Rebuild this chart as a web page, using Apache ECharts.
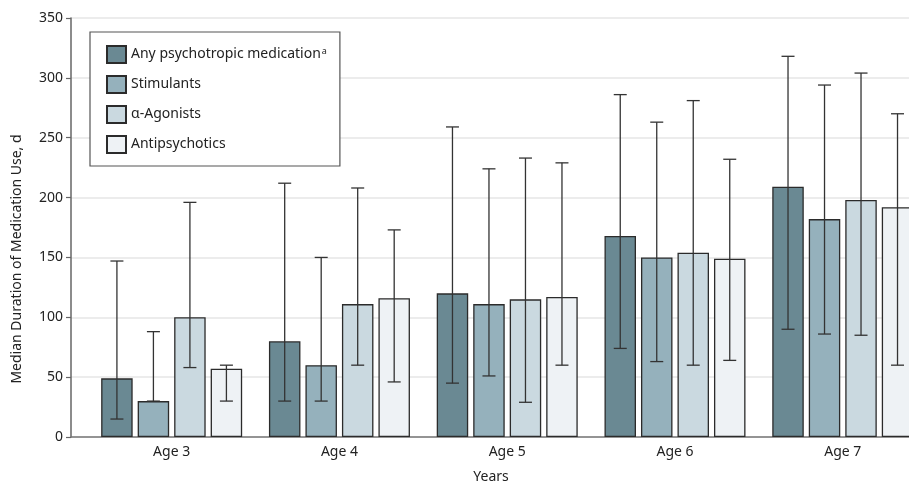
<!DOCTYPE html>
<html><head><meta charset="utf-8">
<script src="https://cdn.jsdelivr.net/npm/echarts@6/dist/echarts.min.js"></script>
<style>html,body{margin:0;padding:0;background:#fff}#c{width:909px;height:485px}</style>
</head><body><div id="c"></div>
<script>
const ages = [3, 4, 5, 6, 7];
const seriesNames = ['Any psychotropic medication', 'Stimulants', 'α-Agonists', 'Antipsychotics'];
const anyMed = [49, 80, 120, 168, 209];
const anyLow = [15, 30, 45, 74, 90];
const anyHigh = [147, 212, 259, 286, 318];
const stimulants = [30, 60, 111, 150, 182];
const stimLow = [30, 30, 51, 63, 86];
const stimHigh = [88, 150, 224, 263, 294];
const agonists = [100, 111, 115, 154, 198];
const agoLow = [58, 60, 29, 60, 85];
const agoHigh = [196, 208, 233, 281, 304];
const antipsychotics = [57, 116, 117, 149, 192];
const antiLow = [30, 46, 60, 64, 60];
const antiHigh = [60, 173, 229, 232, 270];
const yTicks = [0, 50, 100, 150, 200, 250, 300, 350];

const values = [anyMed, stimulants, agonists, antipsychotics];
const lows = [anyLow, stimLow, agoLow, antiLow];
const highs = [anyHigh, stimHigh, agoHigh, antiHigh];
const colors = ['#6a8993', '#95b1bc', '#cad9e0', '#eef2f5'];
const FONT = 'Noto Sans';
const barW = 31.5, gapPx = 5;
const offsets = [-1.5, -0.5, 0.5, 1.5].map(k => k * (barW + gapPx));

const series = [];
values.forEach((vals, i) => {
  series.push({
    name: seriesNames[i], type: 'bar', clip: false,
    data: ages.map((a, j) => [a, vals[j]]),
    barWidth: barW, barGap: (gapPx / barW * 100) + '%',
    itemStyle: { color: colors[i], borderColor: '#2b2b2b', borderWidth: 1.3 },
    emphasis: { disabled: true }, z: 2
  });
});
values.forEach((vals, i) => {
  series.push({
    name: 'err' + i, type: 'custom', z: 5, clip: false,
    data: ages.map((a, j) => [a, lows[i][j], highs[i][j]]),
    renderItem: (params, api) => {
      const lo = api.coord([api.value(0), api.value(1)]);
      const hi = api.coord([api.value(0), api.value(2)]);
      const x = lo[0] + offsets[i];
      const cap = 6.5;
      const st = { stroke: '#333', lineWidth: 1.3 };
      return { type: 'group', children: [
        { type: 'line', shape: { x1: x, y1: lo[1], x2: x, y2: hi[1] }, style: st },
        { type: 'line', shape: { x1: x - cap, y1: hi[1], x2: x + cap, y2: hi[1] }, style: st },
        { type: 'line', shape: { x1: x - cap, y1: lo[1], x2: x + cap, y2: lo[1] }, style: st }
      ]};
    }
  });
});

const chart = echarts.init(document.getElementById('c'), null, { renderer: 'canvas' });
chart.setOption({
  animation: false,
  textStyle: { fontFamily: FONT },
  grid: { left: 71, top: 18, right: 0, bottom: 48, containLabel: false },
  legend: {
    orient: 'vertical', left: 90, top: 32,
    data: seriesNames, icon: 'rect',
    itemWidth: 19, itemHeight: 17, itemGap: 11,
    padding: [13, 13, 12, 16],
    borderColor: '#555', borderWidth: 1.2, backgroundColor: '#fff',
    selectedMode: false,
    textStyle: { fontFamily: FONT, fontSize: 14, color: '#222',
      rich: { sup: { fontFamily: FONT, fontSize: 9, color: '#222', verticalAlign: 'top', padding: [0, 0, 6, 1] } } },
    formatter: n => n === seriesNames[0] ? n + '{sup|a}' : n
  },
  xAxis: {
    type: 'value', min: 2.4, max: 3 + (909 - 172) / 167.7, interval: 0.2,
    axisLine: { show: true, onZero: false, lineStyle: { color: '#777', width: 1.5 } },
    axisTick: { show: false }, splitLine: { show: false },
    axisLabel: { fontFamily: FONT, fontSize: 14, color: '#222', margin: 8,
      showMinLabel: false, showMaxLabel: false,
      formatter: v => (Math.abs(v - Math.round(v)) < 1e-6 && ages.includes(Math.round(v))) ? 'Age ' + Math.round(v) : '' }
  },
  yAxis: {
    type: 'value', min: yTicks[0], max: yTicks[yTicks.length - 1], interval: 50,
    axisLine: { show: true, lineStyle: { color: '#666', width: 1.5 } },
    axisTick: { show: true, length: 5, lineStyle: { color: '#666', width: 1.2 } },
    axisLabel: { fontFamily: FONT, fontSize: 14, color: '#222', margin: 8 },
    splitLine: { lineStyle: { color: '#e6e6e6', width: 1.5 } }
  },
  graphic: [
    { type: 'text', x: 491, y: 477, style: { text: 'Years', fontFamily: FONT, fontSize: 14, fill: '#222', align: 'center', verticalAlign: 'middle' } },
    { type: 'text', x: 17, y: 259, rotation: Math.PI / 2, style: { text: 'Median Duration of Medication Use, d', fontFamily: FONT, fontSize: 14, fill: '#222', align: 'center', verticalAlign: 'middle' } }
  ],
  series: series
});
</script></body></html>
